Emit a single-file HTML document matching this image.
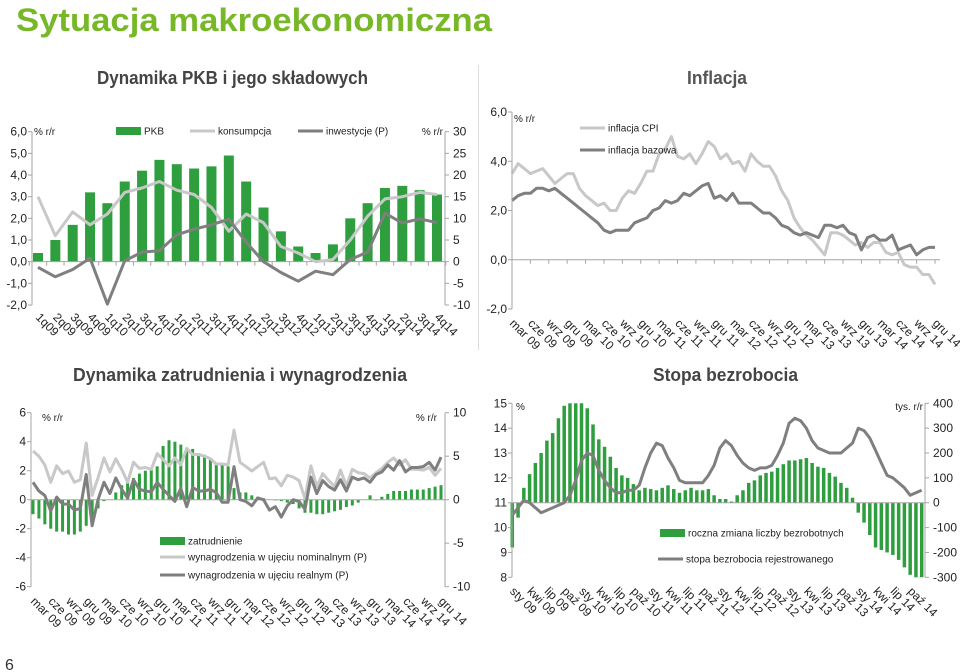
<!DOCTYPE html>
<html><head><meta charset="utf-8"><style>
html,body{margin:0;padding:0;background:#fff;}
svg{display:block;font-family:"Liberation Sans",sans-serif;}
.t{fill:#222;font-size:12px}
.s{fill:#222;font-size:10px}
</style></head><body>
<svg id="root" width="960" height="672" viewBox="0 0 960 672" xmlns="http://www.w3.org/2000/svg">
<text x="16" y="31" fill="#78b828" font-size="32" font-weight="bold" textLength="476" lengthAdjust="spacingAndGlyphs">Sytuacja makroekonomiczna</text>
<text x="97" y="84" fill="#444" font-size="18" font-weight="bold" textLength="271" lengthAdjust="spacingAndGlyphs">Dynamika PKB i jego składowych</text>
<text x="687" y="84" fill="#555" font-size="18" font-weight="bold" textLength="60" lengthAdjust="spacingAndGlyphs">Inflacja</text>
<text x="73" y="381" fill="#444" font-size="18" font-weight="bold" textLength="334" lengthAdjust="spacingAndGlyphs">Dynamika zatrudnienia i wynagrodzenia</text>
<text x="653" y="381" fill="#444" font-size="18" font-weight="bold" textLength="145" lengthAdjust="spacingAndGlyphs">Stopa bezrobocia</text>
<line x1="478.5" y1="65" x2="478.5" y2="350" stroke="#ddd"/>
<text x="5" y="670" font-size="16" fill="#333">6</text>
<g id="c1"></g>
<g id="c2"></g>
<g id="c3"></g>
<g id="c4"></g>
</svg>
<script>
// ---- chart 1 data ----
const gdpCats = ["1q09","2q09","3q09","4q09","1q10","2q10","3q10","4q10","1q11","2q11","3q11","4q11","1q12","2q12","3q12","4q12","1q13","2q13","3q13","4q13","1q14","2q14","3q14","4q14"];
const gdpValues = [0.4,1.0,1.7,3.2,2.7,3.7,4.2,4.7,4.5,4.3,4.4,4.9,3.7,2.5,1.4,0.7,0.4,0.8,2.0,2.7,3.4,3.5,3.3,3.1];
const consValues = [3.0,1.2,2.3,1.7,2.2,3.2,3.4,3.7,3.3,3.1,2.5,1.4,2.2,1.8,0.7,0.4,0.0,0.1,1.0,2.1,2.9,3.0,3.2,3.1];
const invValues = [-1.3,-3.5,-1.8,0.8,-9.8,0.2,2.2,2.5,6.2,7.5,8.5,9.8,4.5,0,-2.5,-4.5,-2.2,-3.0,0.5,2.2,11.2,8.9,9.9,9.0];
const gdpLeftTicks = ["6,0","5,0","4,0","3,0","2,0","1,0","0,0","-1,0","-2,0"];
const gdpRightTicks = ["30","25","20","15","10","5","0","-5","-10"];
// ---- chart 2 data ----
const infCats = ["mar 09","cze 09","wrz 09","gru 09","mar 10","cze 10","wrz 10","gru 10","mar 11","cze 11","wrz 11","gru 11","mar 12","cze 12","wrz 12","gru 12","mar 13","cze 13","wrz 13","gru 13","mar 14","cze 14","wrz 14","gru 14"];
const cpiValues = [3.5,3.9,3.7,3.5,3.6,3.7,3.4,3.1,3.3,3.5, 3.5,2.9,2.6,2.4,2.2,2.3,2.0,2.0,2.5,2.8,2.7,3.1, 3.6,3.6,4.3,4.5,5.0,4.2,4.1,4.3,3.9,4.3,4.8,4.6, 4.1,4.3,3.9,4.0,3.6,4.3,4.0,3.8,3.8,3.4,2.8,2.4, 1.7,1.3,1.0,0.8,0.5,0.2,1.1,1.1,1.0,0.8,0.6,0.7, 0.5,0.7,0.7,0.3,0.2,0.3,-0.2,-0.3,-0.3,-0.6,-0.6,-1.0];
const coreValues = [2.4,2.6,2.7,2.7,2.9,2.9,2.8,2.9,2.7,2.5, 2.3,2.1,1.9,1.7,1.5,1.2,1.1,1.2,1.2,1.2,1.5,1.6, 1.7,2.0,2.1,2.4,2.3,2.4,2.7,2.6,2.8,3.0,3.1,2.5, 2.6,2.4,2.7,2.3,2.3,2.3,2.1,1.9,1.9,1.7,1.4,1.3, 1.1,1.0,1.1,1.0,0.9,1.4,1.4,1.3,1.4,1.1,1.0,0.4, 0.9,1.0,0.8,0.8,1.0,0.4,0.5,0.6,0.2,0.4,0.5,0.5];
const infTicks = ["6,0","4,0","2,0","0,0","-2,0"];
// ---- chart 3 data ----
const empCats = infCats;
const empValues = [-1.0,-1.3,-1.7,-2.0,-2.2,-2.2,-2.4,-2.4,-2.2,-1.8, -1.2,-0.6,-0.1,0.0,0.5,1.0,1.2,1.5,1.8,2.0,2.1,2.3, 3.7,4.1,4.0,3.8,3.6,3.5,3.2,3.1,2.8,2.5,2.4,2.3, 0.8,0.5,0.5,0.3,0.2,0.1,0.0,-0.05,-0.1,-0.2,-0.3,-0.6, -0.9,-0.9,-1.0,-1.0,-0.9,-0.8,-0.7,-0.5,-0.4,-0.2,0.0,0.3, -0.05,0.2,0.4,0.6,0.6,0.6,0.7,0.7,0.7,0.8,0.9,1.0];
const nomValues = [5.6,5.0,4.0,2.0,3.9,3.0,3.3,2.0,2.3,6.5, 0.5,2.5,4.8,3.2,4.7,3.5,2.0,4.3,3.6,3.7,3.5,5.3, 4.6,3.9,4.8,4.0,5.9,5.2,5.2,5.0,4.7,4.1,4.1,4.0, 8.0,4.3,3.8,3.3,3.8,4.3,2.4,2.5,1.6,2.8,2.6,2.2, 0.1,3.9,1.5,3.0,2.2,1.5,3.4,1.6,3.5,3.1,3.0,2.5, 3.1,3.6,4.3,4.8,4.0,4.6,3.5,3.5,3.4,3.7,2.8,3.6];
const realValues = [2.0,1.0,0.5,-1.3,0.3,-0.5,-0.5,-1.2,-1.0,2.9, -3.0,0.0,2.0,0.7,2.5,1.2,0.2,2.3,1.2,1.0,0.9,2.0, 1.2,0.5,-0.2,1.3,-0.8,1.4,1.0,1.0,1.2,0.8,-0.3,-0.3, 3.8,0.0,-0.2,-0.7,0.2,0.0,-1.2,-0.8,-2.0,-0.7,0.0,-0.2, -1.1,2.6,0.7,2.2,1.5,1.1,2.3,1.0,2.6,2.3,2.5,2.0, 2.9,3.2,4.0,3.4,4.5,3.2,3.7,3.7,3.8,4.3,3.4,4.9];
const empLeftTicks = ["6","4","2","0","-2","-4","-6"];
const empRightTicks = ["10","5","0","-5","-10"];
// ---- chart 4 data ----
const unCats = ["sty 09","kwi 09","lip 09","paź 09","sty 10","kwi 10","lip 10","paź 10","sty 11","kwi 11","lip 11","paź 11","sty 12","kwi 12","lip 12","paź 12","sty 13","kwi 13","lip 13","paź 13","sty 14","kwi 14","lip 14","paź 14"];
const unChange = [-180,-60,60,115,160,200,250,280,340,390,400,400,400,380,315,255,225,185,140,110,100,75,50,60,55,50,60,70,55,40,50,60,50,50,55,30,15,15,5,30,50,80,90,110,120,125,140,155,170,170,175,180,160,145,140,120,105,80,60,20,-40,-80,-130,-180,-190,-200,-210,-230,-260,-290,-300,-300];
const unRate = [10.5,10.8,11.1,11.0,10.8,10.6,10.7,10.8,10.9,11.0,11.3,11.9, 12.7,13.0,12.9,12.3,11.9,11.6,11.4,11.4,11.5,11.5,11.7,12.4, 13.0,13.4,13.3,12.8,12.4,11.9,11.8,11.8,11.8,11.8,12.1,12.5, 13.2,13.5,13.3,12.9,12.6,12.4,12.3,12.4,12.4,12.5,12.9,13.4, 14.2,14.4,14.3,14.0,13.5,13.2,13.1,13.0,13.0,13.0,13.2,13.4, 14.0,13.9,13.6,13.1,12.6,12.1,12.0,11.8,11.6,11.3,11.4,11.5];
const unLeftTicks = ["15","14","13","12","11","10","9","8"];
const unRightTicks = ["400","300","200","100","0","-100","-200","-300"];

const NS="http://www.w3.org/2000/svg";
function mk(parent,tag,attrs,txt){const e=document.createElementNS(NS,tag);for(const k in attrs)e.setAttribute(k,attrs[k]);if(txt!==undefined)e.textContent=txt;parent.appendChild(e);return e;}
function lin(d0,d1,r0,r1){return v=>r0+(v-d0)*(r1-r0)/(d1-d0);}
const GREEN="#2f9e3f", LIGHT="#c8c8c8", DARK="#7f7f7f", AX="#a6a6a6";

function yAxis(g,x,yTop,yBot,ticks,side,name){
  const a=mk(g,'line',{x1:x,y1:yTop,x2:x,y2:yBot,stroke:AX});
  
  
  ticks.forEach((t,i)=>{
    const y=yTop+i*(yBot-yTop)/(ticks.length-1);
    mk(g,'line',{x1:side==='l'?x-4:x,y1:y,x2:side==='l'?x:x+4,y2:y,stroke:AX});
    const tx=mk(g,'text',{x:side==='l'?x-5:x+8,y:y+4,'text-anchor':side==='l'?'end':'start','class':'t'},t);
    
    
  });
}
function xLabels(g,cats,xf,step,y,name){
  cats.forEach((c,i)=>{
    const x=xf(i*step)-3;
    const t=mk(g,'text',{x:x,y:y,'class':'t',transform:`rotate(45 ${x} ${y})`},c);
    
    
  });
}
function path(g,vals,xf,yf,color,w,name){
  const d=vals.map((v,i)=>(i?'L':'M')+xf(i).toFixed(1)+','+yf(v).toFixed(1)).join(' ');
  const p=mk(g,'path',{d:d,fill:'none',stroke:color,'stroke-width':w,'stroke-linejoin':'round'});
  
  
}
function bars(g,vals,xf,yf,w,name){
  vals.forEach((v,i)=>{
    const y0=yf(0),y1=yf(v);
    const r=mk(g,'rect',{x:xf(i)-w/2,y:Math.min(y0,y1),width:w,height:Math.abs(y1-y0),fill:GREEN});
    
    
  });
}
function legLine(g,x,y,color,label,name){
  const l=mk(g,'line',{x1:x,y1:y,x2:x+25,y2:y,stroke:color,'stroke-width':3});
  
  
  const t=mk(g,'text',{x:x+28,y:y+3.5,'class':'s'},label);
  
  
}
function legBox(g,x,y,label,name){
  const r=mk(g,'rect',{x:x,y:y-4,width:25,height:8,fill:GREEN});
  
  
  const t=mk(g,'text',{x:x+28,y:y+3.5,'class':'s'},label);
  
  
}
function unit(g,x,y,txt,anchor,name){
  const t=mk(g,'text',{x:x,y:y,'class':'s','text-anchor':anchor||'start'},txt);
  
  
}

// Chart 1
(function(){
  const g=document.getElementById('c1');
  const xf=lin(0,23,38,437), yl=lin(-2,6,305,131.7), yr=lin(-10,30,305,131.7);
  bars(g,gdpValues,xf,yl,10,'gdp-bar');
  const ax=mk(g,'line',{x1:32,y1:yl(0),x2:445,y2:yl(0),stroke:AX});
  
  
  for(let i=0;i<=24;i++){const x=xf(i-0.5);mk(g,'line',{x1:x,y1:yl(0),x2:x,y2:yl(0)+4,stroke:AX});}
  path(g,consValues,xf,yl,LIGHT,3,'consumption-line');
  path(g,invValues,xf,yr,DARK,3,'investment-line');
  yAxis(g,32,131.7,305,gdpLeftTicks,'l','gdp-left-axis');
  yAxis(g,445,131.7,305,gdpRightTicks,'r','gdp-right-axis');
  xLabels(g,gdpCats,xf,1,318,'gdp-x-label');
  unit(g,34,135,'% r/r','start','gdp-left-unit');
  unit(g,443,135,'% r/r','end','gdp-right-unit');
  legBox(g,116,131,'PKB','legend-gdp');
  legLine(g,190,131,LIGHT,'konsumpcja','legend-consumption');
  legLine(g,298,131,DARK,'inwestycje (P)','legend-investment');
})();
// Chart 2
(function(){
  const g=document.getElementById('c2');
  const xf=lin(0,69,512,935), yf=lin(-2,6,309,112);
  const ax=mk(g,'line',{x1:512,y1:yf(0),x2:940,y2:yf(0),stroke:AX});
  
  
  for(let i=0;i<70;i+=3){const x=xf(i);mk(g,'line',{x1:x,y1:yf(0),x2:x,y2:yf(0)+4,stroke:AX});}
  path(g,cpiValues,xf,yf,LIGHT,3,'cpi-line');
  path(g,coreValues,xf,yf,DARK,3,'core-inflation-line');
  yAxis(g,512,112,309,infTicks,'l','inflation-y-axis');
  xLabels(g,infCats,xf,3,324,'inflation-x-label');
  unit(g,514,122,'% r/r','start','inflation-unit');
  legLine(g,580,128,LIGHT,'inflacja CPI','legend-cpi');
  legLine(g,580,150,DARK,'inflacja bazowa','legend-core');
})();
// Chart 3
(function(){
  const g=document.getElementById('c3');
  const xf=lin(0,69,33,441), yl=lin(-6,6,586.7,412.7), yr=lin(-10,10,586.7,412.7);
  bars(g,empValues,xf,yl,3,'employment-bar');
  const ax=mk(g,'line',{x1:31,y1:yl(0),x2:445,y2:yl(0),stroke:AX});
  
  
  path(g,nomValues,xf,yr,LIGHT,3,'nominal-wages-line');
  path(g,realValues,xf,yr,DARK,3,'real-wages-line');
  yAxis(g,31,412.7,586.7,empLeftTicks,'l','employment-left-axis');
  yAxis(g,445,412.7,586.7,empRightTicks,'r','employment-right-axis');
  xLabels(g,empCats,xf,3,602,'employment-x-label');
  unit(g,42,421,'% r/r','start','employment-left-unit');
  unit(g,437,421,'% r/r','end','employment-right-unit');
  legBox(g,160,541,'zatrudnienie','legend-employment');
  legLine(g,160,557,LIGHT,'wynagrodzenia w ujęciu nominalnym (P)','legend-nominal-wages');
  legLine(g,160,575,DARK,'wynagrodzenia w ujęciu realnym (P)','legend-real-wages');
})();
// Chart 4
(function(){
  const g=document.getElementById('c4');
  const xf=lin(0,71,512.3,921.7), yl=lin(8,15,577.3,403.3), yr=lin(-300,400,577.3,403.3);
  bars(g,unChange,xf,yr,3.5,'unemployment-change-bar');
  const ax=mk(g,'line',{x1:512,y1:yl(11),x2:925,y2:yl(11),stroke:AX});
  
  
  path(g,unRate,xf,yl,DARK,3,'unemployment-rate-line');
  yAxis(g,512,403.3,577.3,unLeftTicks,'l','unemployment-left-axis');
  yAxis(g,925,403.3,577.3,unRightTicks,'r','unemployment-right-axis');
  xLabels(g,unCats,xf,3,592,'unemployment-x-label');
  unit(g,516,410,'%','start','unemployment-left-unit');
  unit(g,923,410,'tys. r/r','end','unemployment-right-unit');
  legBox(g,660,533,'roczna zmiana liczby bezrobotnych','legend-unemployment-change');
  legLine(g,658,559,DARK,'stopa bezrobocia rejestrowanego','legend-unemployment-rate');
})();
</script>
</body></html>
